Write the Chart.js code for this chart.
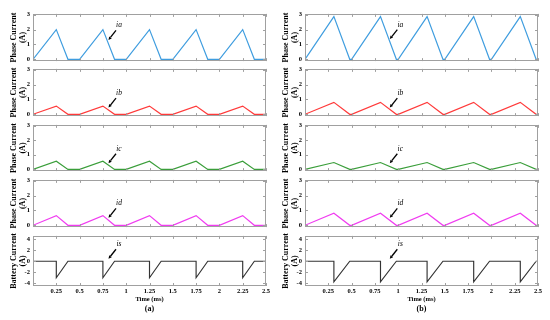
<!DOCTYPE html>
<html><head><meta charset="utf-8">
<script src="https://cdn.jsdelivr.net/npm/chart.js@4/dist/chart.umd.min.js"></script>
<style>
html,body{margin:0;padding:0;background:#fff;}
#wrap{position:relative;width:550px;height:320px;overflow:hidden;background:#fff;}
canvas{position:absolute;}
.cap{position:absolute;font:bold 8px "Liberation Serif",serif;color:#000;transform:translateX(-50%);line-height:9px;white-space:nowrap;}
</style></head><body><div id="wrap"></div>
<script>
// ---------- data ----------
const xTicks = [0.25,0.5,0.75,1,1.25,1.5,1.75,2,2.25,2.5];
const xTickLabels = ['0.25','0.5','0.75','1','1.25','1.5','1.75','2','2.25','2.5'];
const phaseTicks = [0,1,2,3];
const batteryTicks = [-4,-2,0,2,4];
const phaseTitle = 'Phase Current';
const batteryTitle = 'Battery Current';
const unitTitle = '(A)';
const xTitle = 'Time (ms)';
const captions = ['(a)','(b)'];

// (a) phase currents
const tPhaseA = [0,0.25,0.375,0.5,0.75,0.875,1.0,1.25,1.375,1.5,1.75,1.875,2.0,2.25,2.375,2.5];
const iaA = [0,2.0,0,0,2.0,0,0,2.0,0,0,2.0,0,0,2.0,0,0];
const ibA = [0,0.55,0,0,0.55,0,0,0.55,0,0,0.55,0,0,0.55,0,0];
const icA = [0,0.56,0,0,0.56,0,0,0.56,0,0,0.56,0,0,0.56,0,0];
const idA = [0,0.65,0,0,0.65,0,0,0.65,0,0,0.65,0,0,0.65,0,0];
// (a) battery current
const tBatA = [0,0.25,0.25,0.375,0.75,0.75,0.875,1.25,1.25,1.375,1.75,1.75,1.875,2.25,2.25,2.375,2.5];
const isA = [0,0,-3.0,0,0,-3.0,0,0,-3.0,0,0,-3.0,0,0,-3.0,0,0];

// (b) phase currents
const tPhaseB = [0,0.31,0.48,0.5,0.81,0.98,1.0,1.31,1.48,1.5,1.81,1.98,2.0,2.31,2.48,2.5];
const iaB = [0,2.87,0,0,2.87,0,0,2.87,0,0,2.87,0,0,2.87,0,0];
const ibB = [0,0.8,0,0,0.8,0,0,0.8,0,0,0.8,0,0,0.8,0,0];
const icB = [0,0.47,0,0,0.47,0,0,0.47,0,0,0.47,0,0,0.47,0,0];
const idB = [0,0.81,0,0,0.81,0,0,0.81,0,0,0.81,0,0,0.81,0,0];
// (b) battery current
const tBatB = [0,0.31,0.31,0.48,0.81,0.81,0.98,1.31,1.31,1.48,1.81,1.81,1.98,2.31,2.31,2.48,2.5];
const isB = [0,0,-3.75,0,0,-3.75,0,0,-3.75,0,0,-3.75,0,0,-3.75,0,0];

const seriesNames = ['ia','ib','ic','id','is'];

// annotation arrow tips (time, value)
const tipTimeA = 0.81, tipTimeB = 0.91;
const tipValuesA = [1.3,0.45,0.42,0.5,0.45];
const tipValuesB = [1.36,0.45,0.42,0.5,0.45];

// ---------- layout / style ----------
const colors = ['#3f9ddf','#ff3a3a','#3a9e3a','#f03cf0','#333333'];
const panelTops = [13,68,124,179,235];
const panelBottoms = [62,117,172,228,286];
const colLefts = [0,272];
const SERIF = '"Liberation Serif","Times New Roman",serif';
const wrap = document.getElementById('wrap');

const framePlugin = {
  id:'frame',
  afterDatasetsDraw(chart, args, opts){
    const ctx = chart.ctx, a = chart.chartArea, x = chart.scales.x, y = chart.scales.y;
    ctx.save();
    ctx.strokeStyle = '#a0a0a0'; ctx.lineWidth = 1;
    ctx.strokeRect(Math.round(a.left)+0.5, Math.round(a.top)+0.5, Math.round(a.right-a.left)-1, Math.round(a.bottom-a.top)-1);
    ctx.beginPath();
    xTicks.forEach(v=>{
      const px = Math.round(x.getPixelForValue(v))+0.5;
      ctx.moveTo(px,a.top); ctx.lineTo(px,a.top+3);
      ctx.moveTo(px,a.bottom); ctx.lineTo(px,a.bottom-3);
    });
    (opts.yt||[]).forEach(v=>{
      const py = Math.round(y.getPixelForValue(v))+0.5;
      ctx.moveTo(a.left,py); ctx.lineTo(a.left+3,py);
      ctx.moveTo(a.right,py); ctx.lineTo(a.right-3,py);
    });
    ctx.stroke();
    if (opts.label){
      const tx = x.getPixelForValue(opts.tipT), ty = y.getPixelForValue(opts.tipY);
      const sx = tx+7.5, sy = ty-9.5;
      ctx.strokeStyle = '#000'; ctx.fillStyle = '#000'; ctx.lineWidth = 1.3;
      const ang = Math.atan2(ty-sy, tx-sx);
      const bx = tx - 3.2*Math.cos(ang), by = ty - 3.2*Math.sin(ang);
      ctx.beginPath(); ctx.moveTo(sx,sy); ctx.lineTo(bx,by); ctx.stroke();
      ctx.beginPath();
      ctx.moveTo(tx,ty);
      ctx.lineTo(bx + 1.6*Math.sin(ang), by - 1.6*Math.cos(ang));
      ctx.lineTo(bx - 1.6*Math.sin(ang), by + 1.6*Math.cos(ang));
      ctx.closePath(); ctx.fill();
      ctx.font = 'italic 7.5px ' + SERIF;
      ctx.textAlign = 'center'; ctx.textBaseline = 'middle';
      ctx.fillText(opts.label, tx+10.5, ty-14.5);
    }
    ctx.restore();
  }
};

function makePanel(col, idx, tArr, vArr, tipT, tipY){
  const isBat = idx === 4;
  const top = panelTops[idx], bottom = panelBottoms[idx];
  const padT = 6, padB = isBat ? 0 : 6, extraB = isBat ? 17 : 0;
  const c = document.createElement('canvas');
  c.width = 275; c.height = (bottom-top) + padT + padB + extraB;
  c.style.left = colLefts[col]+'px'; c.style.top = (top-padT)+'px';
  wrap.appendChild(c);
  const yt = isBat ? batteryTicks : phaseTicks;
  new Chart(c, {
    type:'line',
    data:{datasets:[{
      data: tArr.map((t,i)=>({x:t, y:vArr[i]})),
      borderColor: colors[idx], borderWidth: 1.15, pointRadius: 0, tension: 0, fill: false
    }]},
    plugins:[framePlugin],
    options:{
      responsive:false, animation:false, events:[],
      layout:{padding:{left:0,right:9,top:padT,bottom:padB}},
      plugins:{legend:{display:false}, tooltip:{enabled:false},
        frame:{yt: yt, label: seriesNames[idx], tipT: tipT, tipY: tipY}},
      scales:{
        x:{type:'linear', min:0, max:2.5, display:isBat,
          afterBuildTicks: s=>{ s.ticks = xTicks.map(v=>({value:v})); },
          afterFit: s=>{ s.height = isBat ? 17 : 0; },
          grid:{display:false, drawTicks:false}, border:{display:false},
          ticks:{display:isBat, padding:1, maxRotation:0, autoSkip:false, color:'#000',
            font:{family:SERIF, size:6.5, weight:'bold'},
            callback: v => xTickLabels[xTicks.indexOf(v)]},
          title:{display:isBat, text:xTitle, color:'#000', padding:0,
            font:{family:SERIF, size:6.5, weight:'bold', lineHeight:1.2}}
        },
        y:{type:'linear', min: isBat ? -4.5 : -0.12, max: isBat ? 4.6 : 3.05,
          afterBuildTicks: s=>{ s.ticks = yt.map(v=>({value:v})); },
          afterFit: s=>{ s.width = 33; },
          grid:{display:false, drawTicks:false}, border:{display:false},
          ticks:{padding:3, color:'#000', font:{family:SERIF, size:6.5, weight:'bold'},
            callback: v => String(v)},
          title:{display:true, text:[isBat ? batteryTitle : phaseTitle, unitTitle], color:'#000',
            padding:{top:9.4,bottom:0},
            font:{family:SERIF, size:8, weight:'bold', lineHeight:1.15}}
        }
      }
    }
  });
}

const setA = [iaA, ibA, icA, idA, isA];
const setB = [iaB, ibB, icB, idB, isB];
for (let i=0;i<5;i++){
  makePanel(0, i, i===4 ? tBatA : tPhaseA, setA[i], tipTimeA, tipValuesA[i]);
  makePanel(1, i, i===4 ? tBatB : tPhaseB, setB[i], tipTimeB, tipValuesB[i]);
}
[149.5, 421.5].forEach((cx,i)=>{
  const d = document.createElement('div');
  d.className = 'cap'; d.textContent = captions[i];
  d.style.left = cx+'px'; d.style.top = '304px';
  wrap.appendChild(d);
});
</script></body></html>
